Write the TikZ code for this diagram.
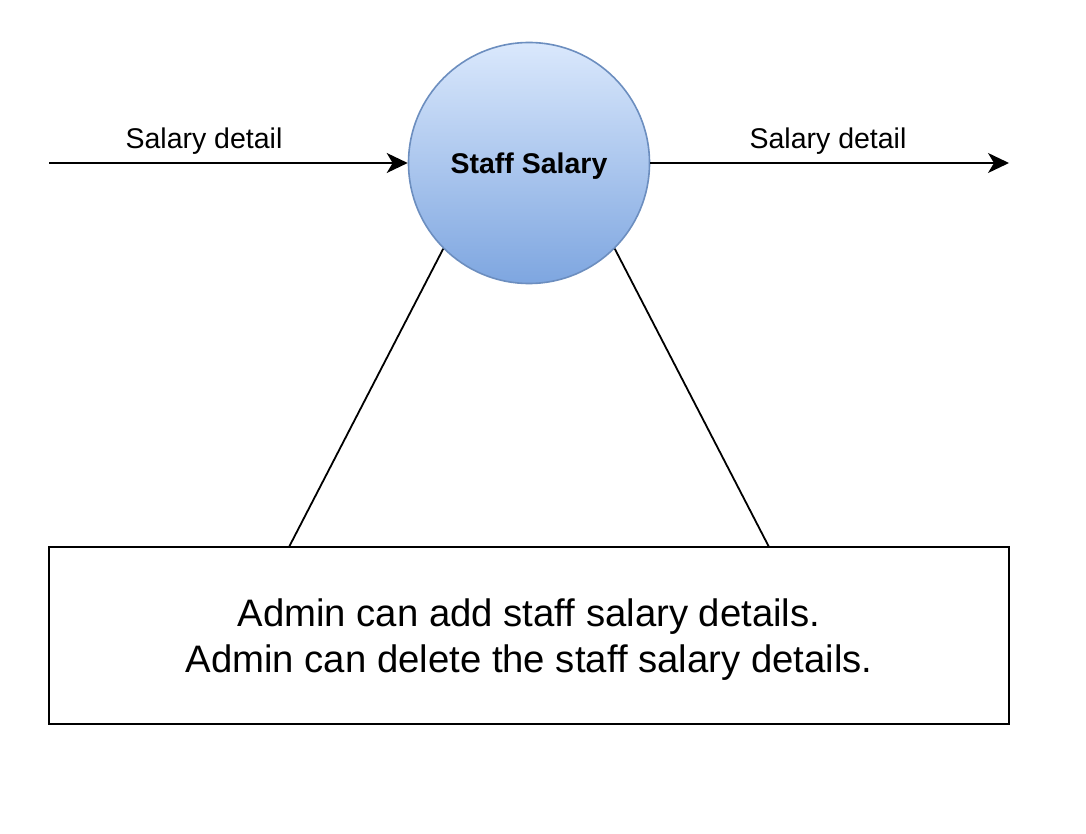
\documentclass[tikz,border=0pt]{standalone}
\usepackage{fontspec}
\setmainfont{Liberation Sans}
\usetikzlibrary{arrows.meta}
\definecolor{procTop}{HTML}{DAE8FC}
\definecolor{procBot}{HTML}{7EA6E0}
\definecolor{procLine}{HTML}{6C8EBF}
\tikzset{
  proc/.style={circle, minimum size=241pt, inner sep=0pt, draw=procLine, line width=1.6pt,
    top color=procTop, bottom color=procBot, font=\fontsize{28.5}{34}\selectfont\bfseries},
  notebox/.style={draw=black, line width=1.8pt, minimum width=960pt, minimum height=177pt,
    inner sep=0pt, align=center, font=\fontsize{38.3}{46}\selectfont},
  flow/.style={line width=1.8pt, -{Stealth[length=21pt,width=20pt,inset=6pt]}},
  link/.style={line width=1.8pt},
  flowlabel/.style={font=\fontsize{28.5}{34}\selectfont, inner sep=0pt}
}
\begin{document}
\begin{tikzpicture}[x=1pt,y=-1pt]
\useasboundingbox (0,0) rectangle (1086,834);
\node[proc] (p) at (529,163) {\raisebox{-3pt}[\height][\depth]{Staff Salary}};
\node[notebox] (b) at (529,635.5) {\raisebox{-4pt}[\height][\depth]{\parbox{900pt}{\centering Admin can add staff salary details.\\Admin can delete the staff salary details.}}};
\coordinate (src) at (49,163);
\coordinate (dst) at (1009,163);
\coordinate (bl) at (289,547);
\coordinate (br) at (769,547);
\draw[flow] (src) -- (p.west);
\draw[flow] (p.east) -- (dst);
\draw[link] (bl) -- (p.south west);
\draw[link] (br) -- (p.south east);
\node[flowlabel] (l1) at (204,141) {Salary detail};
\node[flowlabel] (l2) at (828,141) {Salary detail};
\end{tikzpicture}
\end{document}
